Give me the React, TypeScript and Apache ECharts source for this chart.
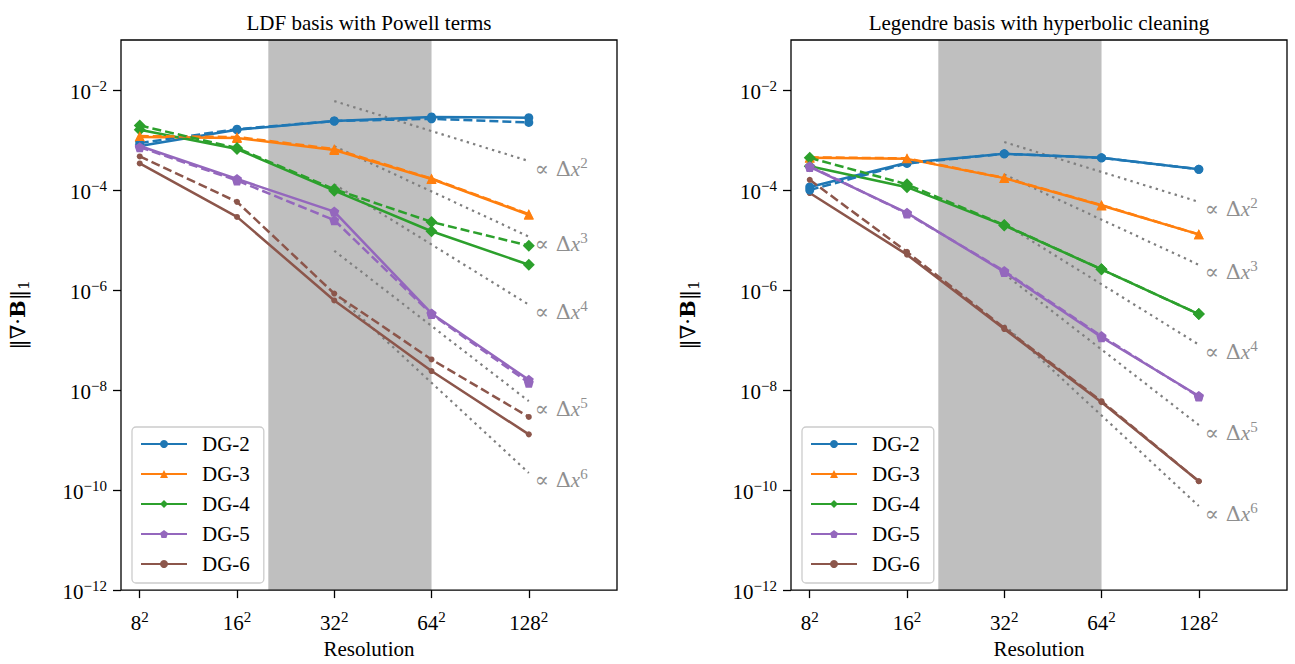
import React, { useEffect, useRef } from 'react';
import * as echarts from 'echarts';

// ---------------- data ----------------
const resolutions = [8, 16, 32, 64, 128];
const seriesNames = ['DG-2', 'DG-3', 'DG-4', 'DG-5', 'DG-6'];

// LDF basis with Powell terms (solid / dashed)
const ldfDG2 = [7.6e-4, 1.6e-3, 2.4e-3, 2.9e-3, 2.8e-3];
const ldfDG2Dashed = [8.7e-4, 1.65e-3, 2.4e-3, 2.65e-3, 2.25e-3];
const ldfDG3 = [1.15e-3, 1.1e-3, 6.3e-4, 1.66e-4, 3.2e-5];
const ldfDG3Dashed = [1.2e-3, 1.15e-3, 6.6e-4, 1.7e-4, 3.3e-5];
const ldfDG4 = [1.6e-3, 6.6e-4, 9.7e-5, 1.5e-5, 3.2e-6];
const ldfDG4Dashed = [1.95e-3, 6.9e-4, 1.04e-4, 2.3e-5, 7.7e-6];
const ldfDG5 = [7.6e-4, 1.66e-4, 3.7e-5, 3.4e-7, 1.6e-8];
const ldfDG5Dashed = [7.2e-4, 1.55e-4, 2.5e-5, 3.3e-7, 1.4e-8];
const ldfDG6 = [3.4e-4, 2.9e-5, 6.2e-7, 2.4e-8, 1.3e-9];
const ldfDG6Dashed = [4.7e-4, 5.8e-5, 8.5e-7, 4.1e-8, 2.9e-9];

// Legendre basis with hyperbolic cleaning (solid / dashed)
const legDG2 = [1.15e-4, 3.5e-4, 5.3e-4, 4.4e-4, 2.6e-4];
const legDG2Dashed = [1.0e-4, 3.4e-4, 5.3e-4, 4.4e-4, 2.6e-4];
const legDG3 = [4.4e-4, 4.2e-4, 1.73e-4, 4.9e-5, 1.3e-5];
const legDG3Dashed = [4.5e-4, 4.3e-4, 1.75e-4, 5.0e-5, 1.3e-5];
const legDG4 = [3.0e-4, 1.14e-4, 1.96e-5, 2.6e-6, 3.3e-7];
const legDG4Dashed = [4.4e-4, 1.3e-4, 2.0e-5, 2.6e-6, 3.3e-7];
const legDG5 = [2.9e-4, 3.5e-5, 2.3e-6, 1.14e-7, 7.6e-9];
const legDG5Dashed = [3.0e-4, 3.4e-5, 2.4e-6, 1.2e-7, 7.4e-9];
const legDG6 = [8.7e-5, 5.1e-6, 1.66e-7, 5.7e-9, 1.5e-10];
const legDG6Dashed = [1.6e-4, 5.8e-6, 1.75e-7, 6.0e-9, 1.5e-10];

// reference slopes (dotted), from 32^2 to 128^2
const refOrders = [2, 3, 4, 5, 6];
const refResolutions = [32, 128];
const ldfRefStart = [6.0e-3, 7.5e-4, 1.3e-4, 6.1e-6, 8.9e-7];
const ldfRefEnd = [3.8e-4, 1.17e-5, 5.1e-7, 6.0e-9, 2.2e-10];
const legRefStart = [9.1e-4, 2.05e-4, 2.1e-5, 2.1e-6, 2.0e-7];
const legRefEnd = [5.8e-5, 3.2e-6, 8.1e-8, 2.0e-9, 4.8e-11];

const shadeRange = [20, 64];
const xTickExponents = [3, 4, 5, 6, 7];
const yTickExponents = [-12, -10, -8, -6, -4, -2];
const panelTitles = ['LDF basis with Powell terms', 'Legendre basis with hyperbolic cleaning'];

// ---------------- style ----------------
const FONT = 'Liberation Serif, DejaVu Serif, serif';
const MATH_FONT = 'DejaVu Serif, Liberation Serif, serif';
const colors = ['#1f77b4', '#ff7f0e', '#2ca02c', '#9467bd', '#8c564b'];
const symbols = [
  'circle',
  'triangle',
  'path://M0,-10L10,0L0,10L-10,0Z',
  'path://M0,-10L9.51,-3.09L5.88,8.09L-5.88,8.09L-9.51,-3.09Z',
  'circle',
];
const symbolSizes = [9, 10, 12, 10, 6];

const panels = [
  {
    solid: [ldfDG2, ldfDG3, ldfDG4, ldfDG5, ldfDG6],
    dashed: [ldfDG2Dashed, ldfDG3Dashed, ldfDG4Dashed, ldfDG5Dashed, ldfDG6Dashed],
    refStart: ldfRefStart,
    refEnd: ldfRefEnd,
    left: 121,
  },
  {
    solid: [legDG2, legDG3, legDG4, legDG5, legDG6],
    dashed: [legDG2Dashed, legDG3Dashed, legDG4Dashed, legDG5Dashed, legDG6Dashed],
    refStart: legRefStart,
    refEnd: legRefEnd,
    left: 791,
  },
];

const GRID_TOP = 40;
const GRID_W = 496;
const GRID_H = 551;
const X_MIN = 7;
const X_MAX = 240;

function buildOption() {
  const grid: any[] = [];
  const xAxis: any[] = [];
  const yAxis: any[] = [];
  const series: any[] = [];
  const legend: any[] = [];
  const graphic: any[] = [];

  const tickRich = {
    b: { fontSize: 21, fontFamily: FONT, color: '#000', lineHeight: 24, verticalAlign: 'bottom' },
    s: { fontSize: 15, fontFamily: FONT, color: '#000', lineHeight: 13, verticalAlign: 'top' },
  };

  panels.forEach((p, pi) => {
    grid.push({
      left: p.left,
      top: GRID_TOP,
      width: GRID_W,
      height: GRID_H,
      show: true,
      z: 5,
      backgroundColor: 'rgba(0,0,0,0)',
      borderColor: '#000',
      borderWidth: 1.3,
    });
    // data axes (log)
    xAxis.push({
      type: 'log',
      logBase: 2,
      gridIndex: pi,
      min: X_MIN,
      max: X_MAX,
      show: false,
      position: 'top',
    });
    // tick/label axis for x
    xAxis.push({
      type: 'value',
      gridIndex: pi,
      position: 'bottom',
      min: Math.log2(X_MIN),
      max: Math.log2(X_MAX),
      axisLine: { show: false },
      splitLine: { show: false },
      axisTick: {
        show: true,
        customValues: xTickExponents,
        length: 8,
        lineStyle: { color: '#000', width: 1.3 },
      },
      axisLabel: {
        customValues: xTickExponents,
        margin: 19,
        fontFamily: FONT,
        formatter: (v: number) => `{b|${Math.round(Math.pow(2, v))}}{s|2}`,
        rich: tickRich,
      },
      name: 'Resolution',
      nameLocation: 'middle',
      nameGap: 47,
      nameTextStyle: { fontSize: 21, fontFamily: FONT, color: '#000' },
    });
    yAxis.push({
      type: 'log',
      gridIndex: pi,
      min: 1e-12,
      max: 1e-1,
      show: false,
      position: 'right',
    });
    yAxis.push({
      type: 'value',
      gridIndex: pi,
      position: 'left',
      min: -12,
      max: -1,
      axisLine: { show: false },
      splitLine: { show: false },
      axisTick: {
        show: true,
        customValues: yTickExponents,
        length: 8,
        lineStyle: { color: '#000', width: 1.3 },
      },
      axisLabel: {
        customValues: yTickExponents,
        margin: 14,
        fontFamily: FONT,
        formatter: (v: number) => `{b|10}{s|${v < 0 ? '\u2212' : ''}${Math.abs(v)}}`,
        rich: tickRich,
      },
      name: '{t|\u2016\u2207\u00b7}{bb|B}{t|\u2016}{sub|1}',
      nameLocation: 'middle',
      nameRotate: 90,
      nameGap: 90,
      nameTextStyle: {
        fontFamily: MATH_FONT,
        rich: {
          t: { fontSize: 21, fontFamily: MATH_FONT, color: '#000', lineHeight: 24, verticalAlign: 'top' },
          bb: { fontSize: 21, fontFamily: MATH_FONT, fontWeight: 'bold', color: '#000', lineHeight: 24, verticalAlign: 'top' },
          sub: { fontSize: 15, fontFamily: MATH_FONT, color: '#000', lineHeight: 13, verticalAlign: 'bottom' },
        },
      },
    });

    const xi = pi * 2;
    const yi = pi * 2;

    // shaded region
    series.push({
      type: 'line',
      name: `shade-${pi}`,
      xAxisIndex: xi,
      yAxisIndex: yi,
      data: [],
      silent: true,
      z: 1,
      markArea: {
        silent: true,
        itemStyle: { color: '#bfbfbf', opacity: 1 },
        data: [[{ xAxis: shadeRange[0] }, { xAxis: shadeRange[1] }]],
      },
    });

    // reference slope lines
    refOrders.forEach((ord, k) => {
      series.push({
        type: 'line',
        name: `ref-${pi}-${ord}`,
        xAxisIndex: xi,
        yAxisIndex: yi,
        data: [
          [refResolutions[0], p.refStart[k]],
          [refResolutions[1], p.refEnd[k]],
        ],
        symbol: 'none',
        silent: true,
        z: 2,
        lineStyle: { color: '#7f7f7f', width: 2.2, type: [2.4, 4.2] },
        endLabel: {
          show: true,
          distance: 6,
          offset: [0, 6],
          fontFamily: FONT,
          formatter: () => `{t|\u221d \u0394}{i|x}{s|${ord}}`,
          rich: {
            t: { fontSize: 21, fontFamily: MATH_FONT, color: '#8f8f8f', lineHeight: 24, verticalAlign: 'bottom' },
            i: { fontSize: 21, fontFamily: FONT, fontStyle: 'italic', color: '#8f8f8f', lineHeight: 24, verticalAlign: 'bottom' },
            s: { fontSize: 15, fontFamily: FONT, color: '#8f8f8f', lineHeight: 13, verticalAlign: 'top' },
          },
        },
      });
    });

    // data series: solid first
    p.solid.forEach((vals, i) => {
      series.push({
        type: 'line',
        name: seriesNames[i],
        xAxisIndex: xi,
        yAxisIndex: yi,
        data: resolutions.map((r, j) => [r, vals[j]]),
        symbol: symbols[i],
        symbolSize: symbolSizes[i],
        showSymbol: true,
        z: 4,
        itemStyle: { color: colors[i] },
        lineStyle: { color: colors[i], width: 2.5 },
      });
    });
    p.dashed.forEach((vals, i) => {
      series.push({
        type: 'line',
        name: seriesNames[i],
        xAxisIndex: xi,
        yAxisIndex: yi,
        data: resolutions.map((r, j) => [r, vals[j]]),
        symbol: symbols[i],
        symbolSize: symbolSizes[i],
        showSymbol: true,
        z: 4,
        itemStyle: { color: colors[i] },
        lineStyle: { color: colors[i], width: 2.5, type: [9, 4] },
      });
    });

    legend.push({
      data: seriesNames,
      orient: 'vertical',
      left: p.left + 11,
      top: 427,
      itemWidth: 46,
      itemHeight: 10,
      itemGap: 8,
      padding: [6, 14, 8, 8],
      borderColor: '#cccccc',
      borderWidth: 1.3,
      borderRadius: 4,
      backgroundColor: 'rgba(255,255,255,0.8)',
      selectedMode: false,
      z: 6,
      textStyle: {
        fontSize: 21,
        fontFamily: FONT,
        color: '#000',
        lineHeight: 22,
        padding: [0, 0, 0, 10],
      },
    });

    graphic.push({
      type: 'text',
      x: p.left + GRID_W / 2,
      y: 12,
      style: {
        text: panelTitles[pi],
        fontSize: 21,
        fontFamily: FONT,
        fill: '#000',
        textAlign: 'center',
        textVerticalAlign: 'top',
      },
    });
  });

  return {
    animation: false,
    backgroundColor: '#fff',
    textStyle: { fontFamily: FONT },
    grid,
    xAxis,
    yAxis,
    series,
    legend,
    graphic,
  };
}

export default function App() {
  const ref = useRef<HTMLDivElement>(null);
  useEffect(() => {
    if (!ref.current) return;
    const chart = echarts.init(ref.current, undefined, { renderer: 'svg' });
    chart.setOption(buildOption() as any);
    return () => chart.dispose();
  }, []);
  return (
    <div
      ref={ref}
      style={{ position: 'absolute', left: 0, top: 0, width: 1295, height: 664 }}
    />
  );
}
